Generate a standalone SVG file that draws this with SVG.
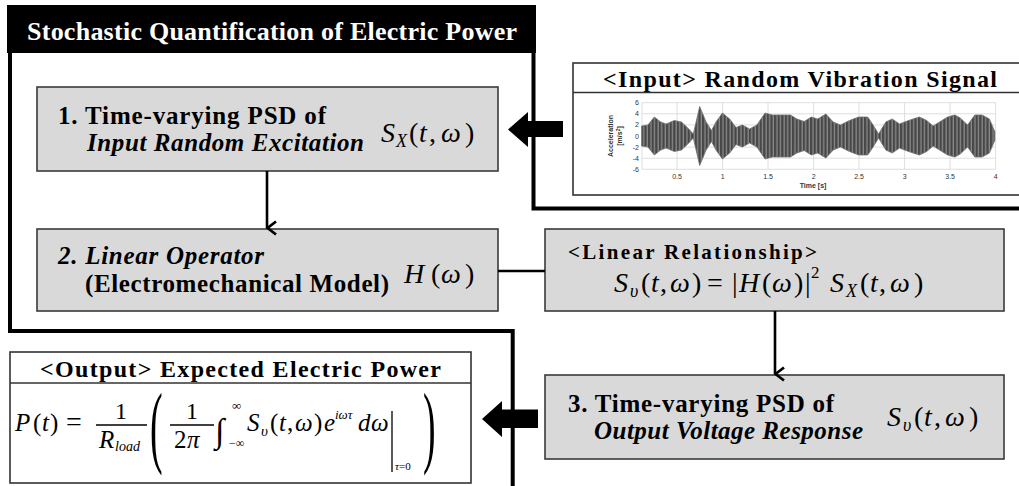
<svg xmlns="http://www.w3.org/2000/svg" width="1019" height="486" viewBox="0 0 1019 486">
<style>
.serif{font-family:"Liberation Serif","Times New Roman",serif;fill:#000}
.b{font-weight:bold}
.i{font-style:italic}
.box{fill:#d9d9d9;stroke:#3a3a3a;stroke-width:1.6}
.wbox{fill:#fff;stroke:#333;stroke-width:1.6}
.frame{fill:none;stroke:#000;stroke-width:4}
.conn{fill:none;stroke:#000;stroke-width:2.6}
.grid{stroke:#d6d6d6;stroke-width:0.8}
.tick{font-family:"Liberation Sans",Arial,sans-serif;font-size:7px;fill:#333}
.eq{font-family:"Liberation Serif","Times New Roman",serif;fill:#000}
.bar{stroke:#000;stroke-width:1.3}
</style>
<defs>
<marker id="chev" markerWidth="16" markerHeight="12" refX="8" refY="10.5" orient="auto-start-reverse" markerUnits="userSpaceOnUse" viewBox="0 0 16 12">
<polyline points="1.5,1.5 8,10 14.5,1.5" fill="none" stroke="#000" stroke-width="2.8"/>
</marker>
<pattern id="stripes" width="3.6" height="10" patternUnits="userSpaceOnUse">
<rect width="3.6" height="10" fill="#474747"/>
<rect x="2.3" width="1.3" height="10" fill="#8a8a8a"/>
</pattern>
</defs>
<rect width="1019" height="486" fill="#fff"/>

<g id="frame">
<rect x="7" y="5" width="529" height="48" fill="#000"/>
<text class="serif b" x="27" y="40" font-size="26" style="fill:#fff" textLength="490" lengthAdjust="spacing">Stochastic Quantification  of Electric Power</text>
<path class="frame" d="M10,51 V331 H512.7 V490"/>
<path class="frame" d="M533.5,51 V208.5 H1025"/>
</g>

<g id="input">
<rect class="wbox" x="573" y="63" width="452" height="132"/>
<line x1="573" y1="92.5" x2="1019" y2="92.5" stroke="#333" stroke-width="1.4"/>
<text class="serif b" x="603" y="87" font-size="24" textLength="394" lengthAdjust="spacing">&lt;Input&gt;  Random Vibration  Signal</text>
<g id="plot">
<line class="grid" x1="642" y1="102.7" x2="995.6" y2="102.7"/>
<line class="grid" x1="642" y1="113.8" x2="995.6" y2="113.8"/>
<line class="grid" x1="642" y1="124.9" x2="995.6" y2="124.9"/>
<line class="grid" x1="642" y1="136" x2="995.6" y2="136"/>
<line class="grid" x1="642" y1="147.1" x2="995.6" y2="147.1"/>
<line class="grid" x1="642" y1="158.2" x2="995.6" y2="158.2"/>
<line class="grid" x1="642" y1="169.3" x2="995.6" y2="169.3"/>
<line class="grid" x1="642" y1="102.7" x2="642" y2="169.3"/>
<line class="grid" x1="677" y1="102.7" x2="677" y2="169.3"/>
<line class="grid" x1="722.6" y1="102.7" x2="722.6" y2="169.3"/>
<line class="grid" x1="768" y1="102.7" x2="768" y2="169.3"/>
<line class="grid" x1="813.6" y1="102.7" x2="813.6" y2="169.3"/>
<line class="grid" x1="859" y1="102.7" x2="859" y2="169.3"/>
<line class="grid" x1="904.6" y1="102.7" x2="904.6" y2="169.3"/>
<line class="grid" x1="950" y1="102.7" x2="950" y2="169.3"/>
<line class="grid" x1="995.6" y1="102.7" x2="995.6" y2="169.3"/>
<path fill="url(#stripes)" stroke="#707070" stroke-width="0.8" stroke-linejoin="round" d="M641.6,126 L647.9,125 654.3,117 660.7,122 666.1,124 674.3,120.5 681.5,122 688.8,129 693.3,134 699.7,106.5 706.1,122 711.5,130.5 716,122 722.4,113 729.7,119 736,127.5 742.4,125 749.6,129 756.9,125 765.1,113 772.3,115 781.4,115 790.5,115 796.9,119 804.1,121.5 811.4,117 817.7,119 825.9,114 833.2,122 840.4,125 849.5,120.5 858.6,117 867.7,117 873.1,125 878.6,134 885.8,122 892.2,119 899.5,124 905.8,121.5 913.1,119 919.4,117 926.7,120.5 933.1,126 940.3,121.5 947.6,117 954.9,115 960.3,118 967.6,125 974.8,115 982.1,115 989.4,119 994.8,131.5 L994.8,140.5 989.4,153 982.1,157 974.8,157 967.6,147 960.3,154 954.9,157 947.6,155 940.3,150.5 933.1,146 926.7,151.5 919.4,155 913.1,153 905.8,150.5 899.5,148 892.2,153 885.8,150 878.6,138 873.1,147 867.7,155 858.6,155 849.5,151.5 840.4,147 833.2,150 825.9,158 817.7,153 811.4,155 804.1,150.5 796.9,153 790.5,157 781.4,157 772.3,157 765.1,159 756.9,147 749.6,143 742.4,147 736,144.5 729.7,153 722.4,159 716,150 711.5,141.5 706.1,150 699.7,165.5 693.3,138 688.8,143 681.5,150 674.3,151.5 666.1,148 660.7,150 654.3,155 647.9,147 641.6,146 Z"/>
<text class="tick" x="639" y="105" text-anchor="end">6</text>
<text class="tick" x="639" y="116" text-anchor="end">4</text>
<text class="tick" x="639" y="127" text-anchor="end">2</text>
<text class="tick" x="639" y="138.5" text-anchor="end">0</text>
<text class="tick" x="639" y="149.5" text-anchor="end">-2</text>
<text class="tick" x="639" y="160.5" text-anchor="end">-4</text>
<text class="tick" x="639" y="171.5" text-anchor="end">-6</text>
<text class="tick" x="677" y="179" text-anchor="middle">0.5</text>
<text class="tick" x="722.6" y="179" text-anchor="middle">1</text>
<text class="tick" x="768" y="179" text-anchor="middle">1.5</text>
<text class="tick" x="813.6" y="179" text-anchor="middle">2</text>
<text class="tick" x="859" y="179" text-anchor="middle">2.5</text>
<text class="tick" x="904.6" y="179" text-anchor="middle">3</text>
<text class="tick" x="950" y="179" text-anchor="middle">3.5</text>
<text class="tick" x="995.6" y="179" text-anchor="middle">4</text>
<text class="tick" x="813" y="188" text-anchor="middle" font-weight="bold">Time [s]</text>
<text class="tick" transform="translate(613,136) rotate(-90)" text-anchor="middle" font-weight="bold">Acceleration</text>
<text class="tick" transform="translate(622,136) rotate(-90)" text-anchor="middle" font-weight="bold">[m/s<tspan font-size="5" dy="-2">2</tspan><tspan dy="2">]</tspan></text>
</g>
</g>

<g id="box1">
<rect class="box" x="37" y="87" width="461" height="84"/>
<text class="serif b" x="58" y="124" font-size="25" textLength="268" lengthAdjust="spacing">1. Time-varying  PSD of</text>
<text class="serif b i" x="87" y="151" font-size="25" textLength="277" lengthAdjust="spacing">Input Random Excitation</text>
<text class="eq" y="142" font-size="28"><tspan class="i" x="381">S</tspan><tspan class="i" x="396" dy="5" font-size="18">X</tspan><tspan x="409" dy="-5">(</tspan><tspan class="i" x="419">t</tspan><tspan x="429">,</tspan><tspan class="i" x="441">ω</tspan><tspan x="465">)</tspan></text>
</g>

<g id="box2">
<rect class="box" x="37" y="229" width="461" height="82"/>
<text class="serif b i" x="58" y="264" font-size="25" textLength="206" lengthAdjust="spacing">2. Linear Operator</text>
<text class="serif b" x="85" y="292" font-size="25" textLength="304" lengthAdjust="spacing">(Electromechanical  Model)</text>
<text class="eq" y="283" font-size="28"><tspan class="i" x="404">H</tspan><tspan x="431">(</tspan><tspan class="i" x="441">ω</tspan><tspan x="465">)</tspan></text>
</g>

<g id="linear">
<rect class="box" x="545" y="229" width="459" height="82"/>
<text class="serif b" x="568" y="259" font-size="21" textLength="249" lengthAdjust="spacing">&lt;Linear Relationship&gt;</text>
<text class="eq" y="292" font-size="28"><tspan class="i" x="614">S</tspan><tspan class="i" x="630" dy="5" font-size="18">υ</tspan><tspan x="641" dy="-5">(</tspan><tspan class="i" x="651">t</tspan><tspan x="660">,</tspan><tspan class="i" x="670">ω</tspan><tspan x="692">)</tspan><tspan x="707">=</tspan><tspan x="732">|</tspan><tspan class="i" x="739">H</tspan><tspan x="762">(</tspan><tspan class="i" x="772">ω</tspan><tspan x="794">)</tspan><tspan x="805">|</tspan><tspan x="811" dy="-14" font-size="17">2</tspan><tspan class="i" x="830" dy="14">S</tspan><tspan class="i" x="846" dy="5" font-size="18">X</tspan><tspan x="860" dy="-5">(</tspan><tspan class="i" x="870">t</tspan><tspan x="879">,</tspan><tspan class="i" x="890">ω</tspan><tspan x="914">)</tspan></text>
</g>

<g id="box3">
<rect class="box" x="545" y="375" width="459" height="84"/>
<text class="serif b" x="568" y="412" font-size="25" textLength="266" lengthAdjust="spacing">3. Time-varying  PSD of</text>
<text class="serif b i" x="594" y="439" font-size="25" textLength="269" lengthAdjust="spacing">Output Voltage Response</text>
<text class="eq" y="426" font-size="28"><tspan class="i" x="887">S</tspan><tspan class="i" x="903" dy="5" font-size="18">υ</tspan><tspan x="914" dy="-5">(</tspan><tspan class="i" x="924">t</tspan><tspan x="934">,</tspan><tspan class="i" x="945">ω</tspan><tspan x="969">)</tspan></text>
</g>

<g id="output">
<rect class="wbox" x="10" y="352" width="461" height="131"/>
<line x1="10" y1="383" x2="471" y2="383" stroke="#333" stroke-width="1.4"/>
<text class="serif b" x="40" y="377" font-size="24" textLength="401" lengthAdjust="spacing">&lt;Output&gt;  Expected Electric Power</text>
<g id="formula" class="eq">
<text y="431" font-size="25"><tspan class="i" x="15">P</tspan><tspan x="33">(</tspan><tspan class="i" x="42">t</tspan><tspan x="50">)</tspan><tspan x="66" font-size="28">=</tspan></text>
<text x="121" y="419" font-size="24" text-anchor="middle">1</text>
<line class="bar" x1="96" y1="425" x2="147" y2="425"/>
<text y="448" font-size="25"><tspan class="i" x="99">R</tspan><tspan class="i" x="115" dy="3" font-size="14">load</tspan></text>
<text transform="translate(150,456) scale(0.42,1)" font-size="90">(</text>
<text x="192" y="419" font-size="24" text-anchor="middle">1</text>
<line class="bar" x1="170" y1="425" x2="214" y2="425"/>
<text y="448" font-size="25"><tspan x="174">2</tspan><tspan class="i" x="187">π</tspan></text>
<text x="215" y="442" font-size="34">∫</text>
<text x="232" y="410" font-size="13">∞</text>
<text x="229" y="447" font-size="12">−∞</text>
<text y="431" font-size="25"><tspan class="i" x="247">S</tspan><tspan class="i" x="261" dy="5" font-size="15">υ</tspan><tspan x="270" dy="-5">(</tspan><tspan class="i" x="279">t</tspan><tspan x="287">,</tspan><tspan class="i" x="295">ω</tspan><tspan x="314">)</tspan><tspan class="i" x="324">e</tspan><tspan class="i" x="335" dy="-12" font-size="13">iωτ</tspan><tspan class="i" x="358" dy="12">d</tspan><tspan class="i" x="371">ω</tspan></text>
<line class="bar" x1="392" y1="411" x2="392" y2="472"/>
<text x="395" y="470" font-size="11"><tspan class="i">τ</tspan>=0</text>
<text transform="translate(423,456) scale(0.42,1)" font-size="90">)</text>
</g>
</g>

<g id="connectors">
<line class="conn" x1="267" y1="171" x2="267" y2="228" marker-end="url(#chev)"/>
<line class="conn" x1="498" y1="271" x2="545" y2="271"/>
<line class="conn" x1="775" y1="311" x2="775" y2="374" marker-end="url(#chev)"/>
<path d="M563,121 H528 V112 L508,129.5 L528,147 V137 H563 Z" fill="#000"/>
<path d="M538,409.5 H502 V401 L482,419 L502,437 V428 H538 Z" fill="#000"/>
</g>
</svg>
